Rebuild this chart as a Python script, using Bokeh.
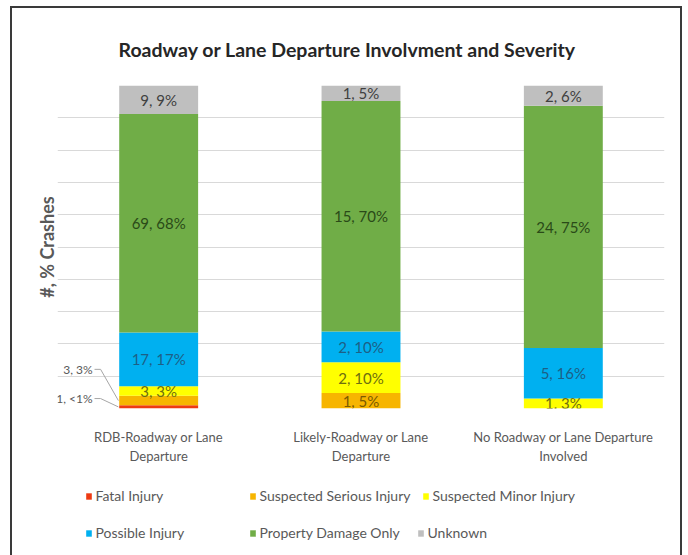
from bokeh.plotting import figure
from bokeh.models import Range1d, FixedTicker, Legend, LegendItem, ColumnDataSource
from bokeh.layouts import column
from bokeh.core.properties import value
from bokeh.embed import file_html
from bokeh.resources import INLINE

# ---- data ----
categories = ["RDB-Roadway or Lane\nDeparture",
              "Likely-Roadway or Lane\nDeparture",
              "No Roadway or Lane Departure\nInvolved"]
series = ["Fatal Injury", "Suspected Serious Injury", "Suspected Minor Injury",
          "Possible Injury", "Property Damage Only", "Unknown"]
fatal = [1, 0, 0]
serious = [3, 1, 0]
minor = [3, 2, 1]
possible = [17, 2, 5]
pdo = [69, 15, 24]
unknown = [9, 1, 2]
pct_fatal = ["<1%", "", ""]
pct_serious = ["3%", "5%", ""]
pct_minor = ["3%", "10%", "3%"]
pct_possible = ["17%", "10%", "16%"]
pct_pdo = ["68%", "70%", "75%"]
pct_unknown = ["9%", "5%", "6%"]

# ---- style ----
colors = ["#EE3A12", "#F7B500", "#FFFF00", "#00B0F0", "#70AD47", "#BFBFBF"]
label_colors = ["#8a2a10", "#7a5a00", "#6e6e10", "#1d5f86", "#2a4a18", "#404040"]
FONT = "Lato"
GRAY = "#595959"

counts = [fatal, serious, minor, possible, pdo, unknown]
pcts = [pct_fatal, pct_serious, pct_minor, pct_possible, pct_pdo, pct_unknown]
xs = [i + 1 for i in range(len(categories))]
totals = [sum(c[i] for c in counts) for i in range(len(categories))]
BAR_W = 0.39
ticks = [i / 10 for i in range(11)]

W = 668
H1 = 470
p = figure(width=W, height=H1, output_backend="svg", toolbar_location=None,
           x_range=Range1d(0.5, len(categories) + 0.5), y_range=Range1d(0, 1),
           min_border_left=45, min_border_right=16, min_border_top=77, min_border_bottom=70)
p.outline_line_color = None

p.title.text = "Roadway or Lane Departure Involvment and Severity"
p.title.text_font = FONT
p.title.text_font_size = "19.5px"
p.title.text_font_style = "bold"
p.title.text_color = "#262626"
p.title.align = "left"
p.title.offset = 61
p.title.standoff = 50

# axes
p.yaxis.ticker = FixedTicker(ticks=ticks)
p.yaxis.major_label_overrides = {t: "" for t in ticks}
p.yaxis.major_tick_line_color = None
p.yaxis.major_tick_out = 0
p.yaxis.major_tick_in = 0
p.yaxis.minor_tick_line_color = None
p.yaxis.axis_line_color = None
p.yaxis.axis_label = "#, % Crashes"
p.yaxis.axis_label_text_font = FONT
p.yaxis.axis_label_text_font_size = "18px"
p.yaxis.axis_label_text_font_style = "bold"
p.yaxis.axis_label_text_color = GRAY
p.yaxis.axis_label_standoff = 0
p.yaxis.major_label_standoff = 0
p.ygrid.grid_line_color = "#D9D9D9"
p.xgrid.grid_line_color = None

p.xaxis.ticker = FixedTicker(ticks=xs)
p.xaxis.major_label_overrides = {x: c for x, c in zip(xs, categories)}
p.xaxis.major_label_text_font = FONT
p.xaxis.major_label_text_font_size = "13px"
p.xaxis.major_label_text_color = GRAY
p.xaxis.major_label_standoff = 14
p.xaxis.major_tick_line_color = None
p.xaxis.minor_tick_line_color = None
p.xaxis.axis_line_color = None

# stacked 100% bars
bottoms = [0.0] * len(categories)
seg_info = []
for s, cnt in enumerate(counts):
    tops = [bottoms[i] + cnt[i] / totals[i] for i in range(len(categories))]
    src = ColumnDataSource(dict(x=xs, bottom=bottoms, top=tops))
    p.vbar(x="x", bottom="bottom", top="top", width=BAR_W, source=src,
           fill_color=colors[s], line_color=None)
    seg_info.append((list(bottoms), tops))
    bottoms = tops

# inside data labels (bar 1's fatal and serious labels sit outside with leaders)
for s, (cnt, pct) in enumerate(zip(counts, pcts)):
    lx, ly, lt = [], [], []
    b, t = seg_info[s]
    for i in range(len(categories)):
        if cnt[i] == 0 or (i == 0 and s in (0, 1)):
            continue
        lx.append(xs[i]); ly.append((b[i] + t[i]) / 2); lt.append(f"{cnt[i]}, {pct[i]}")
    if lx:
        p.text(x=lx, y=ly, text=lt, text_font=value(FONT), text_font_size="15px",
               text_color=label_colors[s], text_align="center", text_baseline="middle")

# outside labels with leader lines on bar 1
left_edge = xs[0] - BAR_W / 2
lab_x = xs[0] - 0.327
for s, dy in zip([1, 0], [0.082, 0.021]):
    b, t = seg_info[s]
    mid = (b[0] + t[0]) / 2
    ly = t[0] + dy
    p.text(x=[lab_x], y=[ly], text=[f"{counts[s][0]}, {pcts[s][0]}"], text_font=value(FONT),
           text_font_size="12px", text_color=GRAY, text_align="right", text_baseline="middle")
    p.line(x=[lab_x + 0.01, lab_x + 0.04, left_edge - 0.004],
           y=[ly, ly, mid], line_color="#A6A6A6", line_width=1)

# ---- legend strip ----
LH = 547 - H1
p2 = figure(width=W, height=LH, output_backend="svg", toolbar_location=None,
            x_range=Range1d(0, 1), y_range=Range1d(0, 1), min_border=0,
            x_axis_type=None, y_axis_type=None)
p2.outline_line_color = None
p2.grid.visible = False
leg_x = [88, 252, 425, 88, 252, 420]      # marker centres, page px
leg_y = [497, 497, 497, 534, 534, 534]
frame_left, strip_bottom = 57, 555
for s in range(len(series)):
    r = p2.vbar(x=[-1], bottom=[0], top=[0], width=0.1, fill_color=colors[s], line_color=None)
    lg = Legend(items=[LegendItem(label=series[s], renderers=[r])],
                location=(leg_x[s] - 3.5 - frame_left, strip_bottom - (leg_y[s] + 7)),
                glyph_width=7, glyph_height=8, label_standoff=4, padding=0, margin=0,
                spacing=0, label_height=14, border_line_color=None, background_fill_alpha=0,
                label_text_font=FONT, label_text_font_size="14px", label_text_color=GRAY)
    p2.add_layout(lg, "center")

layout = column(p, p2, spacing=0,
                styles={"margin-left": "10px", "margin-top": "6px",
                        "border-top": "2px solid #3a3a3a", "border-left": "2px solid #3a3a3a",
                        "border-right": "2px solid #3a3a3a"})

open("out.html", "w").write(file_html(layout, INLINE))
